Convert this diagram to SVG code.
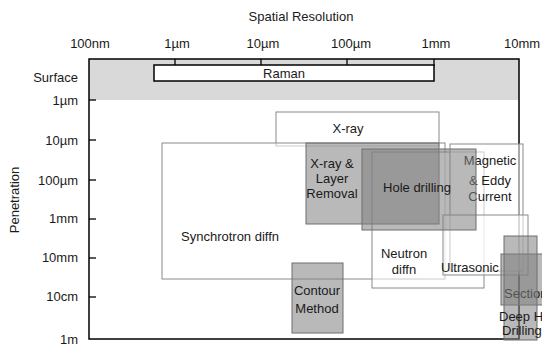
<svg xmlns="http://www.w3.org/2000/svg" width="542" height="347" viewBox="0 0 542 347">
<style>
text{font-family:"Liberation Sans",Arial,sans-serif;font-size:13px;fill:#1a1a1a}
.ax{text-anchor:end}
.tc{text-anchor:middle}
.axis{stroke:#000;stroke-width:1.5;fill:none}
.tick{stroke:#000;stroke-width:1.3}
.open{fill:#fff;fill-opacity:0.55;stroke:#8a8a8a;stroke-width:1}
.shade{fill:#7f7f7f;fill-opacity:0.55;stroke:#6e6e6e;stroke-width:1}
</style>
<rect width="542" height="347" fill="#fff"/>
<g id="axes">
<rect x="89" y="59" width="430" height="41" fill="#d9d9d9"/>
<rect x="89" y="59" width="430" height="280" class="axis"/>
<line class="tick" x1="175" y1="59" x2="175" y2="66"/>
<line class="tick" x1="261" y1="59" x2="261" y2="66"/>
<line class="tick" x1="347" y1="59" x2="347" y2="66"/>
<line class="tick" x1="434" y1="59" x2="434" y2="66"/>
<line class="tick" x1="89" y1="100" x2="96" y2="100"/>
<line class="tick" x1="89" y1="140" x2="96" y2="140"/>
<line class="tick" x1="89" y1="180" x2="96" y2="180"/>
<line class="tick" x1="89" y1="219" x2="96" y2="219"/>
<line class="tick" x1="89" y1="258" x2="96" y2="258"/>
<line class="tick" x1="89" y1="297" x2="96" y2="297"/>
<text x="301" y="21" class="tc">Spatial Resolution</text>
<text x="90" y="48" class="tc">100nm</text>
<text x="177" y="48" class="tc">1µm</text>
<text x="263" y="48" class="tc">10µm</text>
<text x="351" y="48" class="tc">100µm</text>
<text x="436" y="48" class="tc">1mm</text>
<text x="522" y="48" class="tc">10mm</text>
<text x="78" y="82" class="ax">Surface</text>
<text x="78" y="105" class="ax">1µm</text>
<text x="78" y="145" class="ax">10µm</text>
<text x="78" y="185" class="ax">100µm</text>
<text x="78" y="223" class="ax">1mm</text>
<text x="78" y="262" class="ax">10mm</text>
<text x="78" y="301" class="ax">10cm</text>
<text x="78" y="344" class="ax">1m</text>
<text transform="translate(19,200) rotate(-90)" class="tc">Penetration</text>
</g>
<g id="connectors"></g>
<g id="raman">
<rect x="154" y="65" width="280" height="16" fill="#fff" stroke="#000" stroke-width="1.5"/>
<text x="284" y="78" class="tc">Raman</text>
</g>
<g id="xray">
<rect x="276" y="112" width="163" height="34" class="open"/>
<text x="348" y="133" class="tc">X-ray</text>
</g>
<g id="synchrotron">
<rect x="162" y="143" width="283" height="136" class="open"/>
<text x="181" y="241">Synchrotron diffn</text>
</g>
<g id="neutron">
<rect x="372" y="152" width="112" height="136" class="open"/>
<text x="404" y="258" class="tc">Neutron</text>
<text x="404" y="274" class="tc">diffn</text>
</g>
<g id="magnetic">
<rect x="450" y="144" width="73" height="127" class="open"/>
<text x="490" y="165" class="tc">Magnetic</text>
<text x="490" y="185" class="tc">&amp; Eddy</text>
<text x="490" y="201" class="tc">Current</text>
</g>
<g id="ultrasonic">
<rect x="443" y="215" width="85" height="60" class="open"/>
<text x="441" y="272">Ultrasonic</text>
</g>
<g id="xray-layer">
<rect x="306" y="143" width="133" height="81" class="shade" fill-opacity="0.55"/>
<text x="332" y="168" class="tc">X-ray &amp;</text>
<text x="332" y="183" class="tc">Layer</text>
<text x="332" y="198" class="tc">Removal</text>
</g>
<g id="hole-drilling">
<rect x="362" y="149" width="114" height="81" class="shade" fill-opacity="0.5"/>
<text x="417" y="192" class="tc">Hole drilling</text>
</g>
<g id="contour">
<rect x="292" y="263" width="51" height="70" class="shade" fill-opacity="0.65"/>
<text x="317" y="295" class="tc">Contour</text>
<text x="317" y="313" class="tc">Method</text>
</g>
<g id="sectioning">
<rect x="501" y="254" width="45" height="51" class="shade" fill-opacity="0.55"/>
<text x="504" y="298">Sectioning</text>
</g>
<g id="deep-hole">
<rect x="504" y="236" width="33" height="104" class="shade" fill-opacity="0.5"/>
<text x="499" y="321">Deep Hole</text>
<text x="502" y="335">Drilling</text>
</g>
</svg>
